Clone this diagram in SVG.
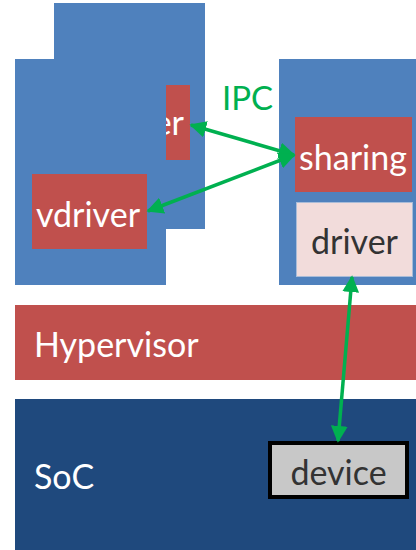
<svg xmlns="http://www.w3.org/2000/svg" width="416" height="550" viewBox="0 0 416 550">
  <defs>
    <style>
      .vm { fill: #4f81bd; }
      .red { fill: #c0504d; }
      .lbl { font-family: Lato, "Open Sans", "Liberation Sans", sans-serif; font-size: 34px; fill: #ffffff; }
      .dark { fill: #333333; }
      .conn { stroke: #00b050; stroke-width: 3.5; fill: none; marker-start: url(#ah); marker-end: url(#ah); }
    </style>
    <marker id="ah" viewBox="0 0 10 10" refX="9" refY="5" markerWidth="4.8" markerHeight="4.8" orient="auto-start-reverse" markerUnits="strokeWidth">
      <path d="M0,0 L10,5 L0,10 z" fill="#00b050"/>
    </marker>
    <clipPath id="back-driver-clip">
      <rect x="166" y="85" width="24" height="75"/>
    </clipPath>
  </defs>

  <!-- background guest VM -->
  <g id="vm-back">
    <rect class="vm" x="54" y="3" width="151" height="226"/>
  </g>

  <!-- front guest VM -->
  <g id="vm-front">
    <rect class="vm" x="15" y="59" width="151" height="226"/>
  </g>

  <!-- partly hidden driver of the background VM -->
  <g id="back-driver">
    <rect class="red" x="166" y="85" width="24" height="75"/>
    <text class="lbl" x="184" y="135" text-anchor="end" clip-path="url(#back-driver-clip)">er</text>
  </g>

  <g id="vdriver">
    <rect class="red" x="32" y="174" width="115" height="75"/>
    <text class="lbl" x="88" y="227" text-anchor="middle">vdriver</text>
  </g>

  <!-- service VM -->
  <g id="vm-service">
    <rect class="vm" x="279" y="59" width="140" height="226"/>
  </g>

  <g id="sharing">
    <rect class="red" x="295" y="117" width="117" height="75"/>
    <text class="lbl" x="353" y="170" text-anchor="middle">sharing</text>
  </g>

  <g id="driver">
    <rect x="296.5" y="202.5" width="116" height="74" fill="#f2dcdb" stroke="#a9bcd8" stroke-width="1"/>
    <text class="lbl dark" x="354.5" y="254" text-anchor="middle">driver</text>
  </g>

  <g id="hypervisor">
    <rect class="red" x="15" y="305" width="401" height="75"/>
    <text class="lbl" x="34" y="357">Hypervisor</text>
  </g>

  <g id="soc">
    <rect x="15" y="399" width="401" height="151" fill="#1f497d"/>
    <text class="lbl" x="34" y="489">SoC</text>
  </g>

  <g id="device">
    <rect x="270" y="443" width="137" height="54" fill="#c8c8c8" stroke="#000000" stroke-width="4"/>
    <text class="lbl dark" x="338.5" y="485" text-anchor="middle">device</text>
  </g>

  <!-- connectors -->
  <g id="connectors">
    <line class="conn" x1="191" y1="125" x2="294" y2="155"/>
    <line class="conn" x1="148" y1="211" x2="294" y2="155"/>
    <line class="conn" x1="352" y1="277" x2="338" y2="441"/>
    <text x="222" y="110" font-family="Lato, 'Open Sans', 'Liberation Sans', sans-serif" font-size="33" fill="#00b050">IPC</text>
  </g>
</svg>
